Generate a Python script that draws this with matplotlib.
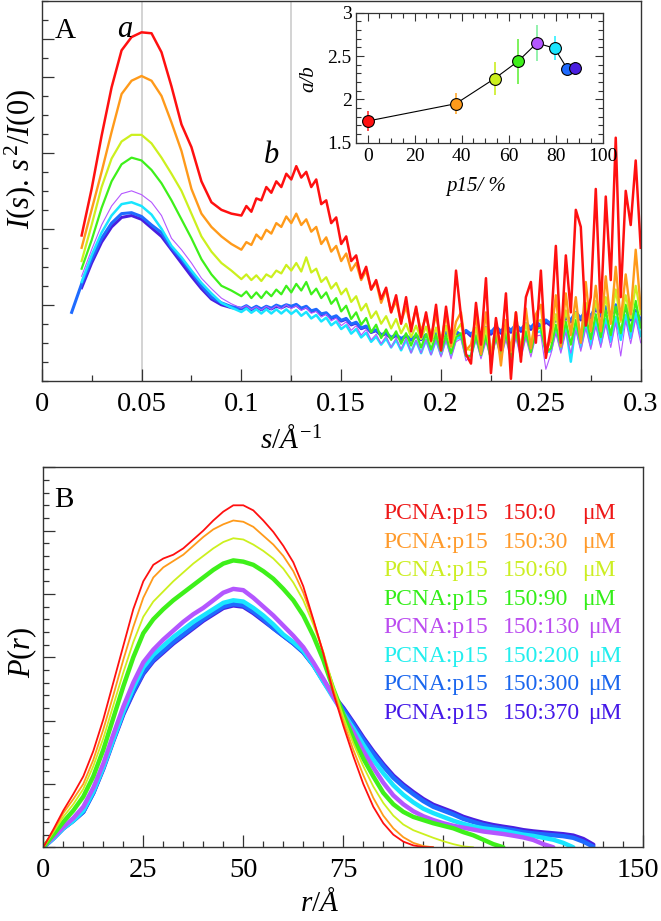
import numpy as np
import matplotlib
matplotlib.use("Agg")
import matplotlib.pyplot as plt
from matplotlib.ticker import MultipleLocator, FixedLocator, FuncFormatter

plt.rcParams['font.family'] = ['Liberation Serif', 'DejaVu Serif']
plt.rcParams['mathtext.fontset'] = 'custom'
plt.rcParams['mathtext.rm'] = 'Liberation Serif'
plt.rcParams['mathtext.it'] = 'Liberation Serif:italic'
plt.rcParams['mathtext.bf'] = 'Liberation Serif:bold'

nan = np.nan

# ---------------- Panel A data (Kratky plots) ----------------
S_LOW = [0.015, 0.020, 0.025, 0.030, 0.035, 0.040, 0.045, 0.050, 0.055,
         0.060, 0.065, 0.070, 0.075, 0.080, 0.085, 0.090, 0.095]
S_HIGH = np.round(np.arange(0.1, 0.3001, 0.0025), 4)

RED_LOW = [nan, 7.65, 10.1, 12.9, 15.45, 17.4, 18.1, 18.35, 18.3, 17.3, 15.5, 13.5, 12.3, 10.5, 9.4, 9.0, 8.8]
RED_HIGH = [8.7, 9.2, 8.9, 9.6, 9.5, 10.2, 9.9, 10.5,
            10.2, 10.9, 10.6, 11.3, 10.7, 11.0, 10.2, 10.6,
            9.3, 9.5, 8.3, 8.6, 7.2, 7.6, 6.3, 6.6,
            5.4, 6.0, 4.8, 5.3, 4.3, 4.9, 3.6, 4.5,
            3.0, 4.4, 2.6, 3.9, 2.3, 3.6, 2.1, 4.0,
            1.6, 3.9, 2.0, 5.8, 3.4, 1.4, 0.9, 4.1,
            1.9, 5.4, 0.4, 3.3, 1.6, 4.6, 0.1, 3.6,
            1.0, 4.4, 5.2, 2.0, 5.8, 1.2, 2.8, 7.1,
            2.0, 6.6, 3.6, 9.0, 8.1, 2.9, 4.4, 10.1,
            3.6, 9.7, 5.3, 12.8, 4.4, 10.0, 8.2, 11.6,
            7.0]

ORANGE_LOW = [nan, 7.0, 9.0, 11.0, 13.1, 15.1, 15.8, 16.05, 15.8, 15.0, 13.6, 12.1, 10.1, 8.8, 8.1, 7.6, 7.2]
ORANGE_HIGH = [6.9, 7.3, 7.15, 7.7, 7.45, 7.95, 7.75, 8.3,
               8.1, 8.65, 8.3, 8.8, 8.2, 8.5, 7.85, 8.1,
               7.2, 7.55, 6.8, 7.1, 6.3, 6.7, 5.8, 6.2,
               5.3, 5.8, 4.8, 5.2, 4.1, 4.8, 3.6, 4.2,
               3.1, 3.9, 2.8, 3.8, 2.6, 3.4, 2.3, 3.5,
               2.0, 3.5, 1.8, 3.1, 3.6, 1.6, 1.9, 3.4,
               1.4, 3.6, 1.3, 3.0, 0.8, 3.2, 1.6, 3.6,
               1.3, 3.8, 1.7, 3.5, 4.0, 1.5, 2.2, 4.5,
               1.8, 4.6, 2.4, 4.4, 2.0, 5.2, 2.6, 5.0,
               2.6, 5.5, 3.0, 6.0, 3.2, 5.6, 3.5, 6.9,
               3.8]

YELLOW_LOW = [nan, 6.3, 8.2, 10.2, 11.7, 12.6, 12.95, 12.95, 12.5, 11.75, 10.9, 10.0, 8.8, 7.6, 6.8, 6.2, 5.8]
YELLOW_HIGH = [5.35, 5.6, 5.3, 5.55, 5.25, 5.6, 5.45, 5.8,
               5.65, 6.1, 5.8, 6.2, 5.75, 6.5, 5.7, 5.9,
               5.2, 5.45, 4.85, 5.15, 4.55, 4.85, 4.15, 4.45,
               3.7, 4.05, 3.3, 3.65, 3.0, 3.4, 2.75, 3.25,
               2.5, 3.0, 2.3, 2.9, 2.2, 2.85, 2.0, 2.8,
               1.9, 2.9, 1.8, 2.6, 3.0, 1.7, 1.6, 2.8,
               1.6, 2.8, 1.3, 2.9, 1.7, 2.9, 1.5, 3.0,
               1.8, 3.0, 1.9, 3.1, 3.2, 1.8, 2.1, 3.5,
               2.2, 3.7, 2.5, 3.6, 2.3, 4.1, 2.7, 4.2,
               2.8, 4.4, 3.0, 4.8, 3.1, 4.5, 3.3, 5.0,
               3.5]

GREEN_LOW = [nan, 5.9, 7.4, 9.1, 10.5, 11.4, 11.75, 11.6, 11.1, 10.4, 9.5, 8.5, 7.5, 6.4, 5.6, 5.0, 4.75]
GREEN_HIGH = [4.45, 4.7, 4.35, 4.65, 4.35, 4.7, 4.45, 4.8,
              4.55, 5.0, 4.65, 5.1, 4.75, 5.2, 4.55, 4.85,
              4.35, 4.65, 4.05, 4.35, 3.65, 3.95, 3.25, 3.6,
              2.95, 3.3, 2.55, 2.95, 2.25, 2.7, 2.15, 2.6,
              1.95, 2.5, 1.85, 2.5, 1.75, 2.45, 1.65, 2.4,
              1.55, 2.4, 1.45, 2.3, 2.5, 1.3, 1.3, 2.4,
              1.35, 2.4, 1.1, 2.35, 1.35, 2.5, 1.25, 2.55,
              1.45, 2.6, 1.5, 2.7, 2.8, 1.5, 1.7, 2.95,
              1.8, 3.1, 1.9, 3.2, 2.0, 3.4, 2.2, 3.5,
              2.3, 3.7, 2.4, 3.9, 2.5, 4.0, 2.6, 4.2,
              2.8]

PURPLE_LOW = [nan, 5.5, 6.9, 8.2, 9.2, 9.85, 10.0, 9.8, 9.4, 8.7, 7.5, 6.9, 6.2, 5.4, 4.85, 4.35, 4.05]
PURPLE_HIGH = [3.82, 3.95, 3.75, 3.9, 3.72, 3.92, 3.76, 3.95,
               3.78, 4.0, 3.8, 3.95, 3.7, 3.85, 3.55, 3.65,
               3.35, 3.5, 3.15, 3.3, 2.9, 3.1, 2.65, 2.9,
               2.4, 2.7, 2.15, 2.45, 1.95, 2.35, 1.75, 2.25,
               1.65, 2.25, 1.45, 2.15, 1.45, 2.15, 1.35, 2.15,
               1.25, 2.15, 1.15, 2.05, 2.2, 1.05, 1.3, 2.15,
               1.15, 2.05, 1.05, 2.15, 1.15, 2.15, 1.05, 2.25,
               1.15, 2.25, 1.25, 2.35, 2.4, 0.6, 1.4, 2.5,
               1.45, 2.55, 1.45, 2.65, 1.55, 2.75, 1.65, 2.85,
               1.75, 2.95, 1.75, 3.05, 1.3, 3.15, 1.95, 3.25,
               2.0]

CYAN_LOW = [nan, 5.2, 6.6, 7.8, 8.7, 9.3, 9.4, 9.2, 8.75, 8.0, 7.1, 6.5, 5.8, 5.15, 4.6, 4.1, 3.85]
CYAN_HIGH = [3.62, 3.8, 3.58, 3.76, 3.54, 3.76, 3.54, 3.76,
             3.54, 3.76, 3.52, 3.72, 3.42, 3.62, 3.28, 3.46,
             3.12, 3.32, 2.92, 3.12, 2.72, 2.92, 2.48, 2.72,
             2.28, 2.52, 2.05, 2.32, 1.9, 2.22, 1.75, 2.15,
             1.6, 2.15, 1.5, 2.1, 1.45, 2.15, 1.4, 2.15,
             1.35, 2.2, 1.35, 2.2, 2.3, 1.3, 1.3, 2.25,
             1.35, 2.3, 1.35, 2.35, 1.4, 2.35, 1.45, 2.45,
             1.45, 2.45, 1.5, 2.55, 2.6, 1.5, 1.55, 2.75,
             1.65, 2.85, 1.0, 2.95, 1.75, 3.05, 1.85, 3.15,
             1.95, 3.25, 2.05, 3.35, 2.15, 3.45, 2.25, 3.55,
             2.35]

BLUE_LOW = [3.6, 5.1, 6.4, 7.5, 8.3, 8.8, 8.85, 8.65, 8.2, 7.8, 7.0, 6.4, 5.7, 5.0, 4.4, 4.1, 3.9]
BLUE_HIGH = [3.82, 3.95, 3.78, 3.92, 3.78, 3.92, 3.82, 3.98,
             3.88, 4.0, 3.92, 4.02, 3.82, 3.92, 3.68, 3.76,
             3.52, 3.58, 3.32, 3.42, 3.18, 3.28, 2.98, 3.08,
             2.78, 2.88, 2.58, 2.68, 2.42, 2.52, 2.28, 2.42,
             2.22, 2.38, 2.18, 2.38, 2.22, 2.42, 2.22, 2.48,
             2.3, 2.55, 2.35, 2.6, 2.4, 2.65, 2.45, 2.7,
             2.5, 2.8, 2.55, 2.85, 2.6, 2.9, 2.65, 2.95,
             2.7, 3.0, 2.8, 3.1, 2.9, 3.2, 3.0, 3.3,
             3.1, 3.4, 3.2, 3.6, 3.3, 3.7, 3.4, 3.9,
             3.5, 3.9, 3.5, 4.0, 3.5, 3.9, 3.3, 3.7,
             3.2]

INDIGO_LOW = [nan, 4.9, 6.2, 7.3, 8.1, 8.6, 8.7, 8.5, 8.05, 7.6, 6.9, 6.2, 5.5, 4.85, 4.3, 4.0, 3.85]
INDIGO_HIGH = [3.78, 3.9, 3.74, 3.88, 3.74, 3.88, 3.78, 3.92,
               3.84, 3.96, 3.88, 3.98, 3.78, 3.88, 3.64, 3.72,
               3.48, 3.54, 3.28, 3.38, 3.14, 3.24, 2.94, 3.04,
               2.74, 2.84, 2.54, 2.64, 2.38, 2.48, 2.24, 2.38,
               2.18, 2.34, 2.14, 2.34, 2.16, 2.38, 2.16, 2.44,
               2.2, 2.5, 2.25, 2.55, 2.3, 2.6, 2.35, 2.65,
               2.4, 2.7, 2.45, 2.75, 2.5, 2.8, 2.55, 2.85,
               2.6, 2.9, 2.7, 3.0, 2.8, 3.1, 2.9, 3.2,
               3.0, 3.3, 3.1, 3.5, 3.2, 3.6, 3.3, 3.8,
               3.4, 3.8, 3.4, 3.9, 3.4, 3.8, 3.2, 3.6,
               3.1]

# ---------------- Inset data ----------------
P15_PCT = [0, 37.5, 54, 64, 72, 79.5, 85, 88]
AB_RATIO = [1.75, 1.95, 2.24, 2.44, 2.65, 2.59, 2.35, 2.36]
AB_ERR = [0.11, 0.12, 0.19, 0.26, 0.21, 0.14, 0.07, 0.07]

# ---------------- Panel B data (P(r)) ----------------
R = np.arange(0, 140.01, 2.5)
PR_RED = [0, 1.4, 2.9, 4.2, 5.6, 7.6, 10.1, 13.0,
          15.9, 18.8, 21.0, 22.3, 22.8, 23.1, 23.6, 24.3,
          25.0, 25.8, 26.5, 27.0, 27.0, 26.6, 25.8, 24.9,
          23.8, 22.5, 20.6, 18.0, 15.3, 12.2, 9.6, 7.2,
          5.0, 3.2, 1.9, 1.0, 0.45, 0.15, 0.02, 0.0,
          nan, nan, nan, nan, nan, nan, nan, nan,
          nan, nan, nan, nan, nan, nan, nan, nan, nan]
PR_ORANGE = [0, 1.3, 2.7, 3.8, 5.0, 6.9, 9.3, 12.0,
             14.8, 17.4, 19.7, 21.3, 22.1, 22.6, 23.1, 23.8,
             24.5, 25.1, 25.5, 25.8, 25.7, 25.3, 24.6, 23.9,
             23.0, 21.8, 20.1, 17.9, 15.4, 12.4, 9.9, 7.7,
             5.7, 3.9, 2.5, 1.5, 0.8, 0.35, 0.1, 0.0,
             nan, nan, nan, nan, nan, nan, nan, nan,
             nan, nan, nan, nan, nan, nan, nan, nan, nan]
PR_YELLOW = [0, 1.2, 2.4, 3.4, 4.6, 6.4, 8.6, 11.2,
             13.8, 16.2, 18.2, 19.4, 20.2, 21.0, 21.7, 22.4,
             23.0, 23.6, 24.1, 24.4, 24.3, 23.9, 23.4, 22.8,
             22.0, 20.9, 19.5, 17.6, 15.4, 12.7, 10.3, 8.2,
             6.4, 4.8, 3.5, 2.5, 1.8, 1.35, 1.05, 0.75,
             0.48, 0.25, 0.07, 0.0, nan, nan, nan, nan,
             nan, nan, nan, nan, nan, nan, nan, nan, nan]
PR_GREEN = [0, 1.0, 2.0, 2.9, 4.0, 5.6, 7.7, 10.2,
            12.7, 15.0, 16.9, 18.0, 18.8, 19.5, 20.1, 20.7,
            21.3, 21.9, 22.4, 22.65, 22.55, 22.3, 21.8, 21.2,
            20.4, 19.5, 18.3, 16.7, 14.8, 12.5, 10.5, 8.6,
            7.0, 5.6, 4.3, 3.4, 2.8, 2.4, 2.15, 1.9,
            1.7, 1.5, 1.2, 0.95, 0.6, 0.25, 0.0, nan,
            nan, nan, nan, nan, nan, nan, nan, nan, nan]
PR_PURPLE = [0, 0.8, 1.6, 2.3, 3.2, 4.7, 6.6, 8.9,
             11.1, 13.0, 14.6, 15.6, 16.4, 17.1, 17.8, 18.4,
             18.9, 19.5, 20.1, 20.4, 20.3, 19.7, 19.0, 18.3,
             17.5, 16.7, 15.8, 14.6, 13.3, 11.9, 10.5, 9.1,
             7.6, 6.3, 5.1, 4.1, 3.4, 2.85, 2.45, 2.15,
             1.9, 1.7, 1.55, 1.4, 1.25, 1.15, 1.05, 0.92,
             0.78, 0.58, 0.25, 0.0, nan, nan, nan, nan, nan]
PR_CYAN = [0, 0.7, 1.5, 2.1, 2.9, 4.4, 6.3, 8.5,
           10.7, 12.6, 14.2, 15.2, 15.9, 16.6, 17.2, 17.8,
           18.3, 18.8, 19.3, 19.5, 19.4, 18.9, 18.3, 17.6,
           16.8, 16.2, 15.5, 14.4, 13.1, 11.8, 10.6, 9.4,
           8.1, 6.9, 5.85, 4.9, 4.15, 3.55, 3.05, 2.7,
           2.4, 2.1, 1.85, 1.65, 1.5, 1.4, 1.3, 1.15,
           1.0, 0.9, 0.75, 0.6, 0.35, 0.0, nan, nan, nan]
PR_BLUE = [0, 0.7, 1.5, 2.1, 2.8, 4.3, 6.3, 8.5,
           10.6, 12.3, 13.8, 14.8, 15.5, 16.2, 16.8, 17.4,
           18.0, 18.5, 19.0, 19.2, 19.1, 18.6, 18.0, 17.3,
           16.7, 16.1, 15.4, 14.4, 13.1, 11.9, 10.9, 9.7,
           8.5, 7.4, 6.4, 5.5, 4.8, 4.2, 3.65, 3.2,
           2.9, 2.6, 2.25, 2.0, 1.77, 1.6, 1.47, 1.35,
           1.2, 1.1, 1.02, 0.95, 0.88, 0.75, 0.45, 0.05, nan]
PR_INDIGO = [0, 0.7, 1.5, 2.1, 2.8, 4.3, 6.2, 8.4,
             10.5, 12.2, 13.7, 14.7, 15.4, 16.1, 16.7, 17.3,
             17.9, 18.4, 18.9, 19.1, 19.0, 18.5, 17.9, 17.3,
             16.7, 16.1, 15.4, 14.4, 13.2, 12.0, 11.0, 9.85,
             8.65, 7.55, 6.55, 5.65, 4.95, 4.35, 3.8, 3.35,
             3.05, 2.75, 2.4, 2.15, 1.92, 1.75, 1.62, 1.5,
             1.35, 1.25, 1.17, 1.1, 1.03, 0.92, 0.65, 0.2, nan]

RATIOS = ["150:0", "150:30", "150:60", "150:90", "150:130", "150:200", "150:300", "150:370"]
COLORS = ['#ff1010', '#ff9a1a', '#ccf01e', '#3ef01a', '#b456ff', '#19e5ff', '#1f6bff', '#4a1ee0']
TEXT_COLORS = ['#ee1818', '#ff9a2a', '#ccee22', '#33ee18', '#bb4cf0', '#22eeee', '#1a66ee', '#4418e8']
ERR_COLORS = ['#ff3030', '#ffaa30', '#ccee22', '#66f040', '#80f0a0', '#30f0ff', '#3080ff', '#3050ff']

A_LOW = [RED_LOW, ORANGE_LOW, YELLOW_LOW, GREEN_LOW, PURPLE_LOW, CYAN_LOW, BLUE_LOW, INDIGO_LOW]
A_HIGH = [RED_HIGH, ORANGE_HIGH, YELLOW_HIGH, GREEN_HIGH, PURPLE_HIGH, CYAN_HIGH, BLUE_HIGH, INDIGO_HIGH]
A_LW = [1.8, 1.7, 1.6, 1.6, 0.8, 1.8, 2.2, 2.2]
PR_ALL = [PR_RED, PR_ORANGE, PR_YELLOW, PR_GREEN, PR_PURPLE, PR_CYAN, PR_BLUE, PR_INDIGO]
B_LW = [1.3, 1.3, 1.3, 3.2, 3.2, 3.2, 3.2, 3.2]

W, H = 661, 921
fig = plt.figure(figsize=(W / 100, H / 100), dpi=100)


def px_axes(x0, y0, x1, y1):
    return fig.add_axes([x0 / W, 1 - y1 / H, (x1 - x0) / W, (y1 - y0) / H])


SPINE_C = '#333333'
TICK_FS = 20.5

# ---------------- Panel A ----------------
axA = px_axes(41.7, 1.0, 640.7, 380.7)
axA.axvline(0.05, color='#c8c8c8', lw=1.1, zorder=0)
axA.axvline(0.125, color='#c8c8c8', lw=1.1, zorder=0)
s_all = np.concatenate([np.array(S_LOW), S_HIGH])
for i in reversed(range(8)):
    y = np.concatenate([np.array(A_LOW[i], float), np.array(A_HIGH[i], float)])
    axA.plot(s_all, y, color=COLORS[i], lw=A_LW[i])
axA.set_xlim(0, 0.3)
axA.set_ylim(0, 20)
axA.xaxis.set_major_locator(MultipleLocator(0.05))
axA.xaxis.set_minor_locator(MultipleLocator(0.025))
axA.xaxis.set_major_formatter(FuncFormatter(lambda v, p: '{:g}'.format(round(v, 3))))
axA.yaxis.set_major_locator(FixedLocator([4, 8, 12, 16, 18]))
axA.yaxis.set_minor_locator(MultipleLocator(1))
axA.set_yticklabels([])
axA.tick_params(which='both', direction='in', top=False, right=False, color=SPINE_C, width=0.9)
axA.tick_params(which='major', length=8.5, labelsize=TICK_FS, pad=8)
axA.tick_params(which='minor', length=4.5)
for sp in axA.spines.values():
    sp.set_color(SPINE_C)
    sp.set_linewidth(1.0)
axA.text(0.022, 0.955, 'A', transform=axA.transAxes, fontsize=21, ha='left', va='top')
axA.text(0.0417, 18.5, 'a', fontsize=22, style='italic', ha='center', va='center')
axA.text(0.1152, 11.85, 'b', fontsize=22, style='italic', ha='center', va='center')
fig.text(20 / W, 1 - 159 / H, r'$I(s).\,s^{\,2}/I(0)$', rotation=90, fontsize=22,
         ha='center', va='center')
fig.text(291 / W, 1 - 440 / H, r'$s/\mathit{Å}^{-1}$', fontsize=21, ha='center', va='center')

# ---------------- Inset ----------------
axI = px_axes(356, 12.7, 602.7, 142.7)
axI.plot(P15_PCT, AB_RATIO, color='black', lw=0.8, zorder=2)
for i in range(8):
    axI.errorbar(P15_PCT[i], AB_RATIO[i], yerr=AB_ERR[i], fmt='none', ecolor=ERR_COLORS[i],
                 elinewidth=1.2, capsize=0, zorder=1)
    axI.plot(P15_PCT[i], AB_RATIO[i], 'o', ms=8.5, mfc=COLORS[i], mec='black', mew=0.8, zorder=3)
axI.set_xlim(-5, 100)
axI.set_ylim(1.5, 3)
axI.xaxis.set_major_locator(MultipleLocator(20))
axI.xaxis.set_minor_locator(MultipleLocator(5))
axI.yaxis.set_major_locator(MultipleLocator(0.5))
axI.yaxis.set_minor_locator(MultipleLocator(0.1))
axI.yaxis.set_major_formatter(FuncFormatter(lambda v, p: '{:g}'.format(round(v, 2))))
axI.tick_params(which='both', direction='in', top=True, right=True, color=SPINE_C, width=0.8)
axI.tick_params(which='major', length=6, labelsize=14, pad=4)
axI.tick_params(axis='y', which='major', pad=3)
axI.tick_params(which='minor', length=3.5)
for sp in axI.spines.values():
    sp.set_color(SPINE_C)
    sp.set_linewidth(0.9)
fig.text(309 / W, 1 - 79 / H, 'a/b', rotation=90, fontsize=15, style='italic', ha='center', va='center')
fig.text(476 / W, 1 - 187 / H, 'p15/ %', fontsize=15, style='italic', ha='center', va='center')

# ---------------- Panel B ----------------
axB = px_axes(43.3, 467.3, 643.3, 847.3)
for i in reversed(range(8)):
    axB.plot(R, np.array(PR_ALL[i], float), color=COLORS[i], lw=B_LW[i], solid_capstyle='round')
axB.set_xlim(0, 150)
axB.set_ylim(0, 30)
axB.xaxis.set_major_locator(MultipleLocator(25))
axB.xaxis.set_minor_locator(MultipleLocator(5))
# the last label (150) is drawn separately, nudged left so it stays inside the figure
axB.xaxis.set_major_formatter(FuncFormatter(lambda v, p: '' if v > 149 else '{:g}'.format(v)))
axB.yaxis.set_major_locator(MultipleLocator(5))
axB.yaxis.set_minor_locator(MultipleLocator(1))
axB.set_yticklabels([])
axB.tick_params(which='both', direction='in', top=False, right=False, color=SPINE_C, width=0.9)
axB.tick_params(which='major', length=8.5, labelsize=TICK_FS, pad=8)
axB.tick_params(which='minor', length=4.5)
for sp in axB.spines.values():
    sp.set_color(SPINE_C)
    sp.set_linewidth(1.0)
fig.text(638 / W, 1 - 858 / H, '150', fontsize=TICK_FS, ha='center', va='top')
axB.text(0.018, 0.948, 'B', transform=axB.transAxes, fontsize=21, ha='left', va='top')
fig.text(22 / W, 1 - 652 / H, r'$P(r)$', rotation=90, fontsize=22, ha='center', va='center')
fig.text(320 / W, 1 - 903 / H, r'$r/\mathit{Å}$', fontsize=21, ha='center', va='center')

for i in range(8):
    yb = 519.3 + 28.5 * i
    fy = 1 - yb / H
    fig.text(383.3 / W, fy, 'PCNA:p15', color=TEXT_COLORS[i], fontsize=17, ha='left', va='baseline')
    fig.text(503.3 / W, fy, RATIOS[i], color=TEXT_COLORS[i], fontsize=17, ha='left', va='baseline')
    mx = 581.7 if i < 4 else 588.3
    fig.text(mx / W, fy, 'μM', color=TEXT_COLORS[i], fontsize=17, ha='left', va='baseline')

fig.savefig('out.png', dpi=100)
